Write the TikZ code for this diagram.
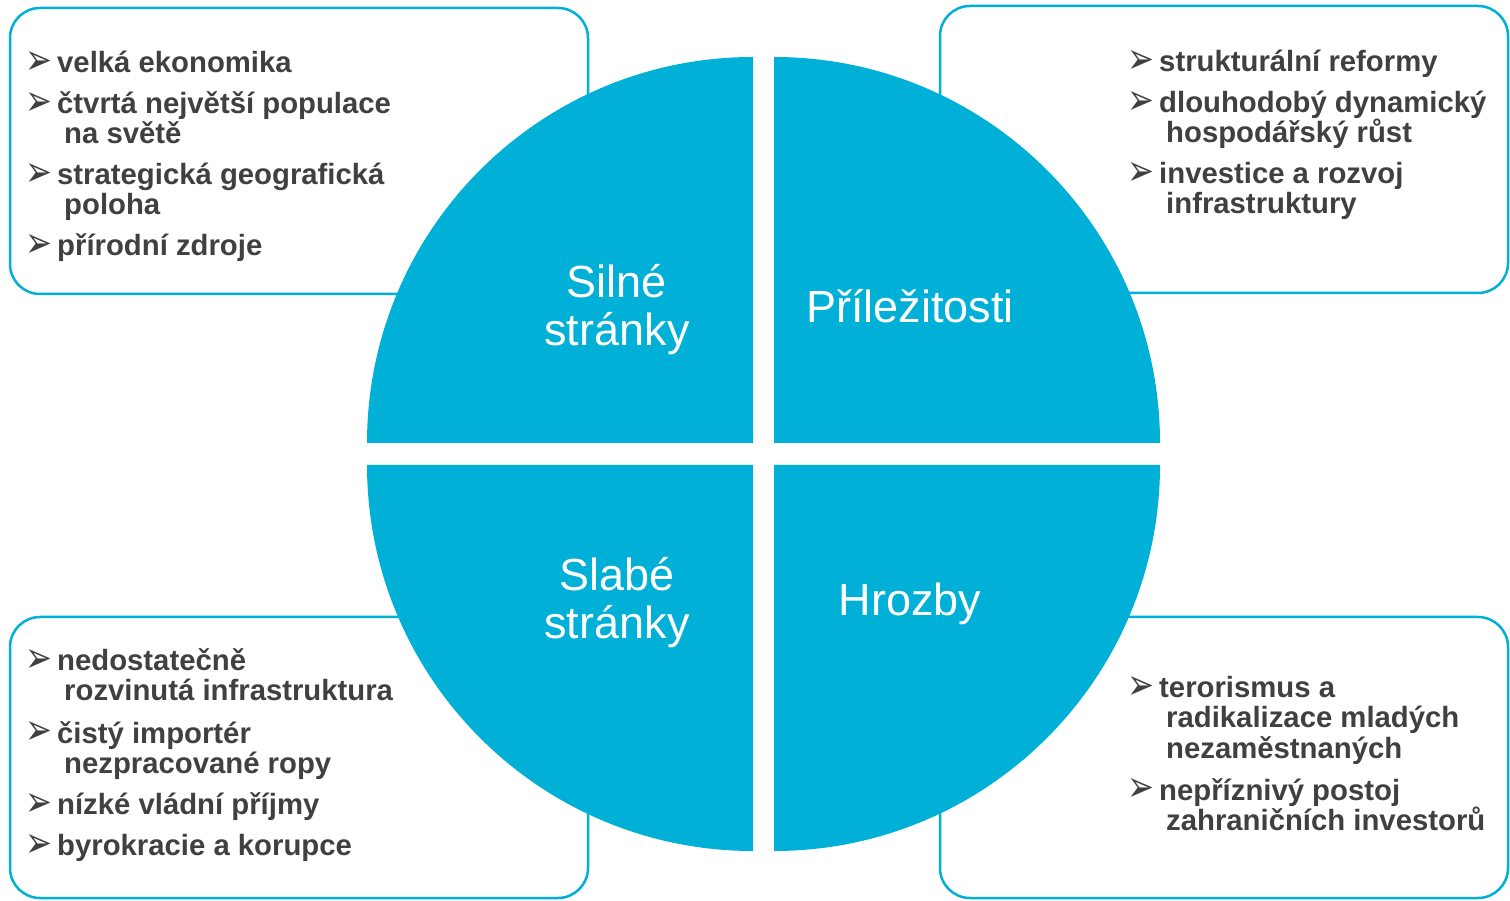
\documentclass[tikz,border=0pt]{standalone}
\usepackage{fontspec}
\setmainfont{Liberation Sans}
\newfontfamily\dingfont{DejaVu Sans}

\definecolor{swotblue}{HTML}{00B0D6}
\definecolor{txtgray}{HTML}{404040}

% bullet in front of each item
\newcommand{\bul}{\makebox[29pt][l]{\hspace{-3pt}\raisebox{-2pt}{\resizebox{27pt}{23pt}{\dingfont\mdseries ➢}}}}

\tikzset{
  quad/.style={fill=swotblue, draw=none},
  listbox/.style={draw=swotblue, line width=2.5pt, rounded corners=30pt},
  item/.style={anchor=base west, inner sep=0pt, text=txtgray,
    font=\fontsize{29.3}{30}\selectfont\bfseries},
  head/.style={text=white, align=center, inner sep=0pt,
    font=\fontsize{45}{48}\selectfont}
}

\begin{document}
\begin{tikzpicture}[x=1pt,y=1pt]
    \useasboundingbox (0,0) rectangle (1510,900);

    % frames behind the circle
    \draw[listbox] (10,606) rectangle (588,892);
    \draw[listbox] (940,607) rectangle (1508,894);
    \draw[listbox] (10,2) rectangle (588,283);
    \draw[listbox] (940,2) rectangle (1508,283);

    % the four quarters
    \fill[quad] (753,457) -- (367,457) arc[start angle=180, end angle=90, radius=386] -- cycle;
    \fill[quad] (774,457) -- (774,843) arc[start angle=90, end angle=0, radius=386] -- cycle;
    \fill[quad] (753,435) -- (367,435) arc[start angle=180, end angle=270, radius=386] -- cycle;
    \fill[quad] (774,435) -- (774,49) arc[start angle=270, end angle=360, radius=386] -- cycle;

    \node[head] (silne)  at (617,590) {Silné\\stránky};
    \node[head] (prilez) at (910,594) {Příležitosti};
    \node[head] (slabe)  at (617,297) {Slabé\\stránky};
    \node[head] (hrozby) at (910,296) {Hrozby};

    % strengths
    \node[item] (s1)  at (28,827) {\bul velká ekonomika};
    \node[item] (s2)  at (28,786) {\bul čtvrtá největší populace};
    \node[item] (s2b) at (64,756) {na světě};
    \node[item] (s3)  at (28,715) {\bul strategická geografická};
    \node[item] (s3b) at (64,685) {poloha};
    \node[item] (s4)  at (28,644) {\bul přírodní zdroje};

    % opportunities
    \node[item] (o1)  at (1130,828) {\bul strukturální reformy};
    \node[item] (o2)  at (1130,787) {\bul dlouhodobý dynamický};
    \node[item] (o2b) at (1166,757) {hospodářský růst};
    \node[item] (o3)  at (1130,716) {\bul investice a rozvoj};
    \node[item] (o3b) at (1166,686) {infrastruktury};

    % weaknesses
    \node[item] (w1)  at (28,229) {\bul nedostatečně};
    \node[item] (w1b) at (64,199) {rozvinutá infrastruktura};
    \node[item] (w2)  at (28,157) {\bul čistý importér};
    \node[item] (w2b) at (64,127) {nezpracované ropy};
    \node[item] (w3)  at (28,86)  {\bul nízké vládní příjmy};
    \node[item] (w4)  at (28,45)  {\bul byrokracie a korupce};

    % threats
    \node[item] (t1)  at (1130,202) {\bul terorismus a};
    \node[item] (t1b) at (1166,172) {radikalizace mladých};
    \node[item] (t1c) at (1166,141) {nezaměstnaných};
    \node[item] (t2)  at (1130,100) {\bul nepříznivý postoj};
    \node[item] (t2b) at (1166,70)  {zahraničních investorů};
\end{tikzpicture}
\end{document}
